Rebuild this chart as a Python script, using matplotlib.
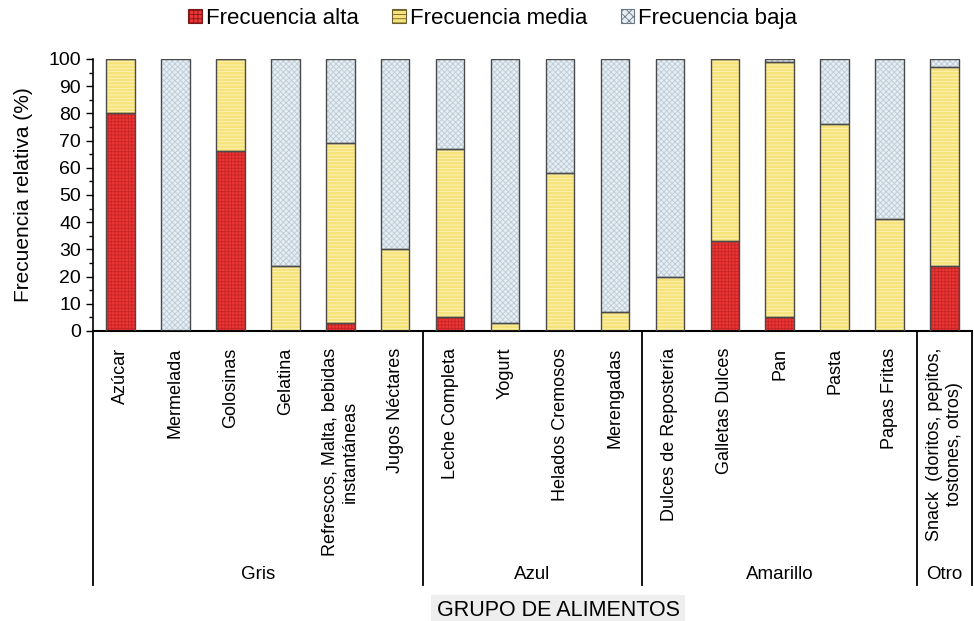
import matplotlib
matplotlib.use("Agg")
import matplotlib.pyplot as plt
import matplotlib.transforms as mtransforms
from matplotlib.patches import Patch
import numpy as np

categories = ["Azúcar", "Mermelada", "Golosinas", "Gelatina",
              "Refrescos, Malta, bebidas\ninstantáneas", "Jugos Néctares",
              "Leche Completa", "Yogurt", "Helados Cremosos", "Merengadas",
              "Dulces de Repostería", "Galletas Dulces", "Pan", "Pasta",
              "Papas Fritas", "Snack  (doritos, pepitos,\ntostones, otros)"]
alta = [80, 0, 66, 0, 3, 0, 5, 0, 0, 0, 0, 33, 5, 0, 0, 24]
media = [20, 0, 34, 24, 66, 30, 62, 3, 58, 7, 20, 67, 94, 76, 41, 73]
baja = [0, 100, 0, 76, 31, 70, 33, 97, 42, 93, 80, 0, 1, 24, 59, 3]
groups = ["Gris", "Azul", "Amarillo", "Otro"]
group_sizes = [6, 4, 5, 1]
series_names = ["Frecuencia alta", "Frecuencia media", "Frecuencia baja"]

plt.rcParams['font.family'] = ['Liberation Sans', 'DejaVu Sans']
plt.rcParams['hatch.linewidth'] = 0.6

fig = plt.figure(figsize=(9.74, 6.21), dpi=100)
ax = fig.add_axes([0.0955, 0.467, 0.9025, 0.438])

x = np.arange(len(categories))
w = 0.52
faces = ["#ee3535", "#f7e37a", "#e6eef4"]
hcols = ["#c42525", "#fdf4c0", "#bccbd6"]
hatches = ["+++++", "-----", "xxxxxx"]
data = [alta, media, baja]
bottom = np.zeros(len(categories))
for vals, fc, hc, ht in zip(data, faces, hcols, hatches):
    vals = np.array(vals, dtype=float)
    ax.bar(x, vals, w, bottom=bottom, color=fc, edgecolor=hc, hatch=ht,
           linewidth=0, zorder=2)
    ax.bar(x, vals, w, bottom=bottom, fill=False, edgecolor="#4a4a4a",
           linewidth=1.0, zorder=3)
    bottom += vals

ax.set_xlim(-0.5, len(categories) - 0.5)
ax.set_ylim(0, 100)
ax.set_yticks(np.arange(0, 101, 10))
ax.set_yticks(np.arange(0, 101, 5), minor=True)
ax.tick_params(axis='y', which='major', labelsize=14, length=5, width=1, direction='out')
ax.tick_params(axis='y', which='minor', length=3, width=1, direction='out')
ax.set_xticks(x)
ax.set_xticklabels(categories, rotation=90, ha='center', va='top',
                   multialignment='center', fontsize=13)
ax.tick_params(axis='x', length=0, pad=12)
ax.spines['top'].set_visible(False)
ax.spines['right'].set_visible(False)
ax.spines['bottom'].set_linewidth(1.5)
ax.spines['left'].set_linewidth(1.2)
ax.set_ylabel("Frecuencia relativa (%)", fontsize=15)
ax.yaxis.set_label_coords(-0.068, 0.5)

# group separators and labels
trans = mtransforms.blended_transform_factory(ax.transData, ax.transAxes)
edges = np.concatenate([[0], np.cumsum(group_sizes)]) - 0.5
for e in edges:
    ax.plot([e, e], [0, -0.934], transform=trans, color='black', lw=1.3,
            clip_on=False, zorder=5)
for g, a, b in zip(groups, edges[:-1], edges[1:]):
    ax.text((a + b) / 2, -0.897, g, transform=trans, ha='center', va='center',
            fontsize=13.5)

fig.text(0.573, 0.017, "GRUPO DE ALIMENTOS", ha='center', va='center',
         fontsize=15.5,
         bbox=dict(boxstyle='square,pad=0.25', facecolor='#eeeeee', edgecolor='none'))

handles = [Patch(facecolor=fc, edgecolor=ec, hatch=ht, linewidth=0.8)
           for fc, ec, ht in zip(faces, ['#7a1a1a', '#6a6030', '#6a7680'],
                                 ["++++", "----", "xxxx"])]
fig.legend(handles, series_names, loc='center', bbox_to_anchor=(0.506, 0.971),
           ncol=3, frameon=False, fontsize=16, handlelength=0.6, handleheight=0.6,
           handletextpad=0.2, columnspacing=1.5, borderaxespad=0)

fig.savefig("out.png", dpi=100)
